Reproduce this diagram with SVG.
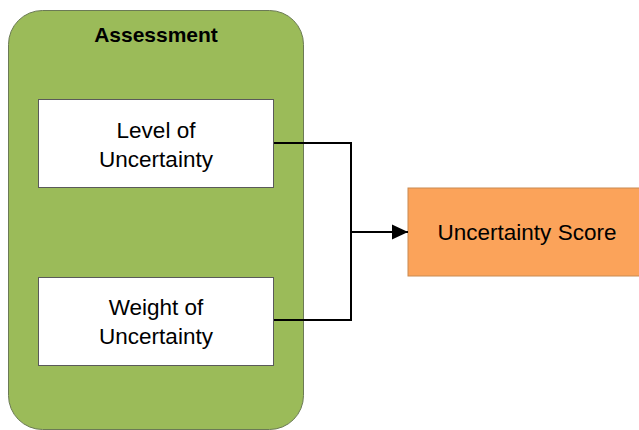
<svg xmlns="http://www.w3.org/2000/svg" width="639" height="430" viewBox="0 0 639 430">
<style>
text{font-family:"Liberation Sans","Open Sans",sans-serif;fill:#000;text-anchor:middle}
.lbl{font-size:22.5px}
.box{fill:#fff;stroke:#5a5a5a;stroke-width:1}
.conn{fill:none;stroke:#000;stroke-width:2}
</style>
<defs>
<marker id="arr" markerWidth="16" markerHeight="16" refX="15" refY="7" orient="auto" markerUnits="userSpaceOnUse" viewBox="0 0 15 14">
<path d="M0,0 L15,7 L0,14 Z" fill="#000"/>
</marker>
</defs>
<g id="assessment">
<rect x="8.5" y="10.5" width="295" height="419" rx="34" fill="#9BBB59" stroke="#6b7a55" stroke-width="1"/>
<text x="156" y="42" style="font-size:21px;font-weight:bold">Assessment</text>
</g>
<g id="level">
<rect class="box" x="38.5" y="99.5" width="235" height="88"/>
<text class="lbl" x="156" y="138">Level of</text>
<text class="lbl" x="156" y="167">Uncertainty</text>
</g>
<g id="weight">
<rect class="box" x="38.5" y="277.5" width="235" height="88"/>
<text class="lbl" x="156" y="315">Weight of</text>
<text class="lbl" x="156" y="344">Uncertainty</text>
</g>
<g id="score">
<rect x="408" y="188" width="240" height="88" fill="#FBA35A" stroke="#c98a50" stroke-width="1"/>
<text class="lbl" x="527" y="240">Uncertainty Score</text>
</g>
<g id="connectors">
<polyline class="conn" points="274,143 351,143 351,320 274,320"/>
<line class="conn" x1="351" y1="232" x2="408" y2="232" marker-end="url(#arr)"/>
</g>
</svg>
